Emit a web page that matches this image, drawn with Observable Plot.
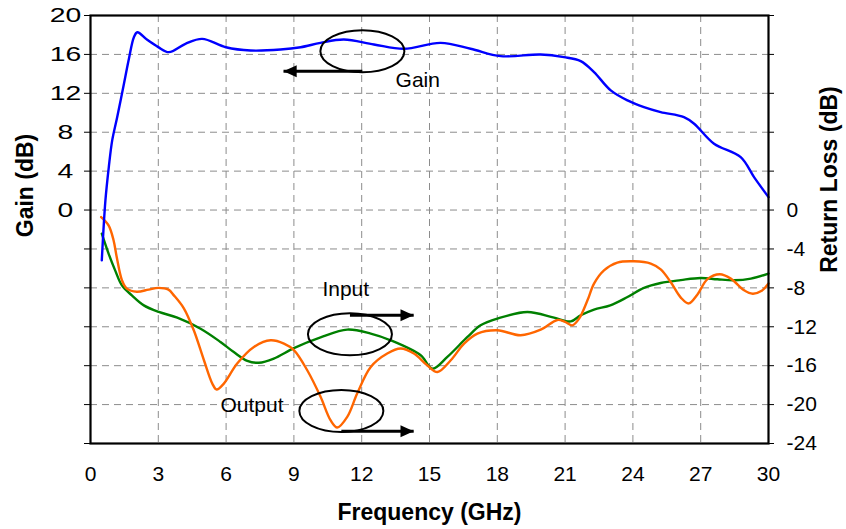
<!DOCTYPE html>
<html>
<head>
<meta charset="utf-8">
<script src="https://cdn.jsdelivr.net/npm/d3@7"></script>
<script src="https://cdn.jsdelivr.net/npm/@observablehq/plot@0.6"></script>
<style>
  html, body { margin: 0; padding: 0; background: #ffffff; }
  #chart { width: 846px; height: 529px; }
</style>
</head>
<body>
<div id="chart"></div>
<script>
// ---- Gain (left axis, dB) ----
const gainFreq = [0.5, 0.66, 0.81, 0.96, 1.18, 1.48, 1.7, 1.92, 2.07, 2.51, 3.0, 3.47, 4.2, 4.94, 5.99, 7.08, 8.41, 9.3, 10.18, 11.21, 12.54, 13.87, 15.49, 16.82, 18.15, 19.92, 20.95, 21.69, 22.28, 23.02, 23.76, 24.49, 25.23, 26.26, 26.71, 27.59, 28.77, 29.36, 30.0];
const gainDb   = [-5.17, 0.99, 4.42, 7.16, 9.55, 12.98, 15.55, 17.77, 18.28, 17.5, 16.75, 16.23, 17.09, 17.6, 16.74, 16.4, 16.5, 16.74, 17.19, 17.53, 17.02, 16.58, 17.19, 16.58, 15.82, 15.99, 15.72, 15.31, 14.18, 12.3, 11.27, 10.58, 10.07, 9.55, 8.87, 6.82, 5.44, 3.39, 1.33];

// ---- Input return loss (right axis, dB) ----
const inputFreq = [0.5, 0.8, 1.09, 1.39, 1.83, 2.36, 3.02, 3.84, 4.87, 5.75, 6.34, 6.94, 7.45, 8.11, 9.0, 10.18, 11.36, 12.4, 13.28, 14.61, 15.13, 15.79, 16.68, 17.26, 18.0, 19.33, 20.51, 21.25, 21.69, 22.28, 23.0, 23.76, 24.49, 25.23, 26.12, 27.0, 27.74, 28.48, 29.22, 30.0];
const inputDb   = [-2.43, -4.48, -6.2, -7.74, -8.77, -9.8, -10.48, -11.06, -12.2, -13.56, -14.6, -15.5, -15.7, -15.27, -14.2, -13.1, -12.29, -12.7, -13.39, -14.93, -16.3, -15.1, -13.05, -11.85, -11.16, -10.48, -11.06, -11.45, -10.82, -10.23, -9.8, -8.94, -8.0, -7.5, -7.2, -6.98, -7.12, -7.22, -7.05, -6.53];

// ---- Output return loss (right axis, dB) ----
const outputFreq = [0.47, 0.8, 1.02, 1.16, 1.39, 1.61, 2.05, 2.57, 3.01, 3.45, 3.69, 4.13, 4.57, 5.02, 5.39, 5.58, 5.9, 6.49, 7.23, 7.97, 8.56, 9.0, 9.59, 10.18, 10.62, 10.92, 11.36, 11.8, 12.4, 13.13, 13.72, 14.31, 14.9, 15.35, 15.94, 16.53, 17.12, 18.0, 19.03, 19.92, 20.66, 21.0, 21.32, 21.62, 21.99, 22.28, 22.72, 23.31, 24.05, 24.79, 25.23, 25.67, 26.12, 26.47, 26.85, 27.3, 27.85, 28.33, 28.92, 29.3, 29.7, 30.0];
const outputDb   = [-0.72, -1.57, -3.1, -4.83, -7.2, -8.08, -8.4, -8.18, -8.0, -8.18, -8.77, -10.1, -12.36, -15.44, -17.84, -18.45, -17.84, -15.78, -14.08, -13.39, -13.73, -14.4, -16.47, -19.2, -21.6, -22.36, -21.27, -18.87, -16.13, -14.75, -14.24, -14.75, -15.96, -16.65, -15.44, -13.73, -12.7, -12.36, -12.87, -12.3, -11.3, -11.5, -11.85, -11.16, -9.28, -7.56, -6.2, -5.4, -5.27, -5.5, -6.1, -7.4, -9.0, -9.6, -8.7, -7.1, -6.6, -7.05, -8.25, -8.6, -8.3, -7.56];

// ---- axes ----
const xTicks = [0, 3, 6, 9, 12, 15, 18, 21, 24, 27, 30];
const gridXTicks = [3, 6, 9, 12, 15, 18, 21, 24, 27];
const yTicks = [-24, -20, -16, -12, -8, -4, 0, 4, 8, 12, 16, 20];
const gridYTicks = [-20, -16, -12, -8, -4, 0, 4, 8, 12, 16];
const xTitle = ["Frequency (GHz)"];
const leftTitle = ["Gain (dB)"];
const rightTitle = ["Return Loss (dB)"];

// ---- annotations (data coordinates) ----
const noteLabels   = ["Gain", "Input", "Output"];
const noteLabelX   = [13.5, 10.26, 5.75];
const noteLabelY   = [13.3, -8.15, -20.07];
const ellipseX     = [12.03, 11.48, 11.1];
const ellipseY     = [16.32, -12.77, -20.66];
const arrowStartX  = [12.03, 11.48, 11.1];
const arrowEndX    = [8.54, 14.3, 14.3];
const arrowY       = [14.28, -10.82, -22.74];
const arrowRotate  = [180, 0, 0];

const toRows = (xs, ys, name) => xs.map((x, i) => ({freq: x, db: ys[i], series: name}));
const gainRows = toRows(gainFreq, gainDb, "Gain");
const inputRows = toRows(inputFreq, inputDb, "Input");
const outputRows = toRows(outputFreq, outputDb, "Output");

const notes = noteLabels.map((t, i) => ({
  label: t, lx: noteLabelX[i], ly: noteLabelY[i],
  ex: ellipseX[i], ey: ellipseY[i],
  ax1: arrowStartX[i], ax2: arrowEndX[i], ay: arrowY[i], rot: arrowRotate[i]
}));

// custom symbols
const ellipseSymbol = {
  draw(context, size) {
    const r = Math.sqrt(size / Math.PI);
    const rx = r * 2, ry = r, k = 0.5523;
    context.moveTo(rx, 0);
    context.bezierCurveTo(rx, k * ry, k * rx, ry, 0, ry);
    context.bezierCurveTo(-k * rx, ry, -rx, k * ry, -rx, 0);
    context.bezierCurveTo(-rx, -k * ry, -k * rx, -ry, 0, -ry);
    context.bezierCurveTo(k * rx, -ry, rx, -k * ry, rx, 0);
    context.closePath();
  }
};
const arrowHeadSymbol = {
  draw(context, size) {
    const r = Math.sqrt(size / Math.PI);
    context.moveTo(0, 0);
    context.lineTo(-2.2 * r, -r);
    context.lineTo(-2.2 * r, r);
    context.closePath();
  }
};

const fmtLeft = d => (d >= 0 ? String(d) : "");
const fmtRight = d => (d <= 0 ? String(d) : "");

const chart = Plot.plot({
  width: 846,
  height: 529,
  marginLeft: 90,
  marginRight: 78,
  marginTop: 15,
  marginBottom: 86,
  style: {fontFamily: "'Liberation Sans', Arial, Helvetica, sans-serif", fontSize: "21px", background: "#ffffff", color: "#000000", overflow: "visible"},
  x: {domain: [0, 30]},
  y: {domain: [-24, 20]},
  marks: [
    Plot.gridX(gridXTicks, {stroke: "#8c8c8c", strokeOpacity: 1, strokeWidth: 1, strokeDasharray: "7,5"}),
    Plot.gridY(gridYTicks, {stroke: "#8c8c8c", strokeOpacity: 1, strokeWidth: 1, strokeDasharray: "7,5"}),
    Plot.line(inputRows, {x: "freq", y: "db", stroke: "#008000", strokeWidth: 2.4, curve: "catmull-rom"}),
    Plot.line(outputRows, {x: "freq", y: "db", stroke: "#ff6600", strokeWidth: 2.4, curve: "catmull-rom"}),
    Plot.line(gainRows, {x: "freq", y: "db", stroke: "#0000ff", strokeWidth: 2.4, curve: "catmull-rom"}),
    Plot.frame({stroke: "#000000", strokeWidth: 2.2}),
    Plot.axisY({anchor: "left", ticks: yTicks, tickFormat: fmtLeft, tickSize: 6, tickPadding: 19, textAnchor: "middle", label: null, fontSize: 21}),
    Plot.axisY({anchor: "right", ticks: yTicks, tickFormat: fmtRight, tickSize: 5, tickPadding: 13, label: null, fontSize: 21}),
    Plot.axisX({anchor: "bottom", ticks: xTicks, tickFormat: d => String(d), tickSize: 0, tickPadding: 23, label: null, fontSize: 21}),
    // annotations
    Plot.dot(notes, {x: "ex", y: "ey", r: 21, symbol: ellipseSymbol, stroke: "#000000", strokeWidth: 2, fill: "none"}),
    Plot.link(notes, {x1: "ax1", x2: "ax2", y1: "ay", y2: "ay", stroke: "#000000", strokeWidth: 3}),
    Plot.dot(notes, {x: "ax2", y: "ay", r: 6, symbol: arrowHeadSymbol, rotate: "rot", fill: "#000000", stroke: "none"}),
    Plot.text(notes, {x: "lx", y: "ly", text: "label", textAnchor: "start", lineAnchor: "middle", fontSize: 21, fill: "#000000"}),
    // axis titles
    Plot.text(leftTitle, {frameAnchor: "left", dx: -65, dy: -44, rotate: -90, textAnchor: "middle", lineAnchor: "middle", fontSize: 23, fontWeight: "bold"}),
    Plot.text(rightTitle, {frameAnchor: "right", dx: 61, dy: -50, rotate: -90, textAnchor: "middle", lineAnchor: "middle", fontSize: 23, fontWeight: "bold"}),
    Plot.text(xTitle, {frameAnchor: "bottom", dy: 69, textAnchor: "middle", lineAnchor: "middle", fontSize: 23, fontWeight: "bold"})
  ]
});

document.getElementById("chart").appendChild(chart);

// widen the left-axis tick labels, as in the reference
try {
  const groups = chart.querySelectorAll('g[aria-label="y-axis tick label"]');
  if (groups.length > 0) {
    groups[0].querySelectorAll("text").forEach(t => {
      const tr = t.getAttribute("transform");
      if (tr) t.setAttribute("transform", tr + " scale(1.35,1)");
    });
  }
} catch (e) {}
</script>
</body>
</html>
